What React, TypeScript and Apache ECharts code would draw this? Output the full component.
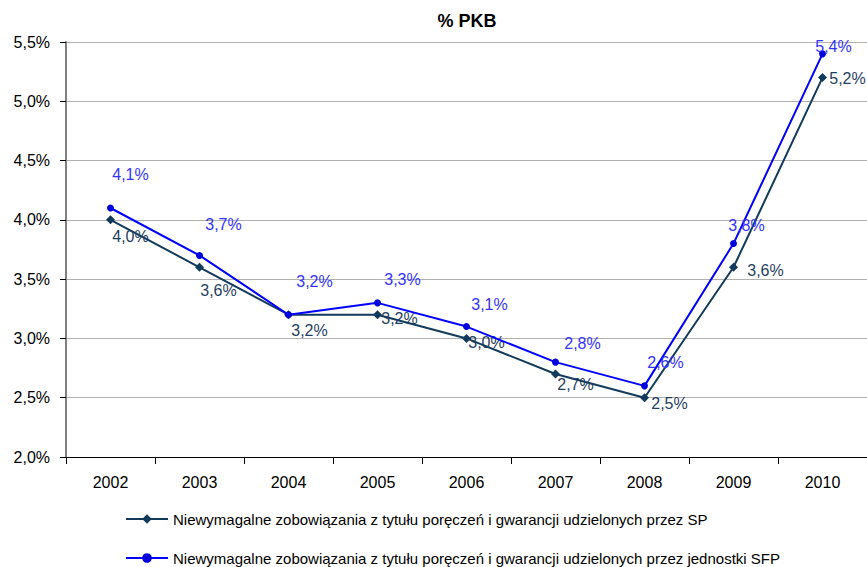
import React, { useEffect, useRef } from "react";
import * as echarts from "echarts";

const categories = ["2002", "2003", "2004", "2005", "2006", "2007", "2008", "2009", "2010"];
const spValues = [4.0, 3.6, 3.2, 3.2, 3.0, 2.7, 2.5, 3.6, 5.2];
const sfpValues = [4.1, 3.7, 3.2, 3.3, 3.1, 2.8, 2.6, 3.8, 5.4];
const seriesNames = [
  "Niewymagalne zobowiązania z tytułu poręczeń i gwarancji udzielonych przez SP",
  "Niewymagalne zobowiązania z tytułu poręczeń i gwarancji udzielonych przez jednostki SFP",
];
const title = "% PKB";

// label offsets (style)
const spOffsets = [[20, 17], [19, 23], [21, 16], [22, 4], [20, 4], [20, 10], [25, 6], [32, 3], [25, 1]];
const sfpOffsets = [[20, -34], [24, -31], [26, -33], [25, -23], [23, -22], [27, -19], [21, -23], [13, -18], [11, -7]];

const FONT = "'Liberation Sans', Arial, sans-serif";
const fmt = (v: number) => v.toFixed(1).replace(".", ",") + "%";

export default function App() {
  const ref = useRef<HTMLDivElement>(null);
  useEffect(() => {
    if (!ref.current) return;
    const chart = echarts.init(ref.current, null, { renderer: "svg" });
    const mk = (vals: number[], offs: number[][], color: string) =>
      vals.map((v, i) => ({
        value: v,
        label: {
          show: true,
          position: "inside",
          offset: offs[i],
          color,
          fontFamily: FONT,
          fontSize: 16,
          formatter: (p: any) => fmt(p.value),
        },
      }));
    const legendCommon = {
      orient: "horizontal",
      left: 123,
      itemWidth: 42,
      itemHeight: 12,
      padding: 2,
      textStyle: { fontFamily: FONT, fontSize: 15, color: "#000", lineHeight: 16 },
    };
    chart.setOption({
      animation: false,
      textStyle: { fontFamily: FONT },
      title: {
        text: title,
        left: 462,
        textAlign: "center",
        top: 7,
        textStyle: { fontFamily: FONT, fontWeight: "bold", fontSize: 18, color: "#000" },
      },
      grid: { left: 66, right: 0, top: 42, bottom: 110, containLabel: false },
      legend: [
        { ...legendCommon, top: 509, data: [seriesNames[0]] },
        { ...legendCommon, top: 548, data: [seriesNames[1]] },
      ],
      xAxis: {
        type: "category",
        data: categories,
        boundaryGap: true,
        axisLine: { lineStyle: { color: "#000", width: 1 } },
        axisTick: { show: true, length: 7, lineStyle: { color: "#000" } },
        axisLabel: { color: "#000", fontSize: 16, fontFamily: FONT, margin: 17 },
      },
      yAxis: {
        type: "value",
        min: 2,
        max: 5.5,
        interval: 0.5,
        axisLine: { show: true, lineStyle: { color: "#808080", width: 2 } },
        axisTick: { show: true, length: 6, lineStyle: { color: "#000" } },
        axisLabel: { color: "#000", fontSize: 16, fontFamily: FONT, margin: 16, formatter: (v: number) => fmt(v) },
        splitLine: { lineStyle: { color: "#b0b0b0", width: 1 } },
      },
      series: [
        {
          name: seriesNames[0],
          type: "line",
          data: mk(spValues, spOffsets, "#1f3f5f"),
          symbol: "diamond",
          symbolSize: 9,
          lineStyle: { color: "#123a5a", width: 2 },
          itemStyle: { color: "#123a5a" },
          z: 3,
        },
        {
          name: seriesNames[1],
          type: "line",
          data: mk(sfpValues, sfpOffsets, "#3333ff"),
          symbol: "circle",
          symbolSize: 7,
          lineStyle: { color: "#0000ff", width: 2 },
          itemStyle: { color: "#0000dd" },
          z: 4,
        },
      ],
    });
    return () => chart.dispose();
  }, []);
  return <div ref={ref} style={{ width: 867, height: 567, position: "absolute", left: 0, top: 0 }} />;
}
